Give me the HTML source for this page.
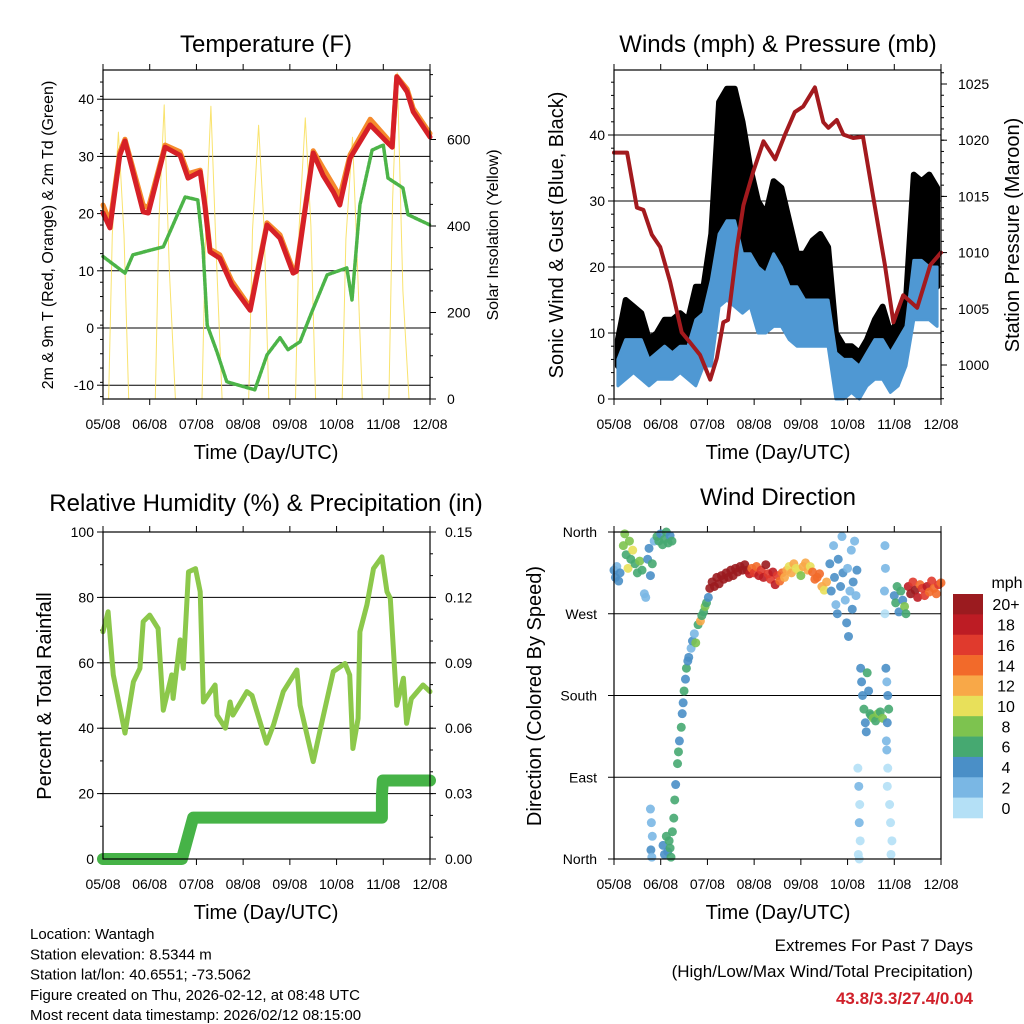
<!DOCTYPE html>
<html><head><meta charset="utf-8"><style>
body{margin:0;background:#fff;}
svg{display:block;font-family:"Liberation Sans",Arial,sans-serif;}
</style></head><body>
<svg id="c" width="1024" height="1024" viewBox="0 0 1024 1024" xmlns="http://www.w3.org/2000/svg"></svg>
<script>
// ---------- DATA ----------
const dayLabels=["05/08","06/08","07/08","08/08","09/08","10/08","11/08","12/08"];
const tempT=[0,0.15,0.36,0.47,0.86,0.97,1.33,1.65,1.82,2.08,2.18,2.29,2.5,2.76,3.15,3.51,3.79,4.07,4.14,4.5,4.71,4.93,5.07,5.29,5.72,6.08,6.19,6.29,6.51,6.64,7.0];
const tempRed=[20.1,17.5,30.2,32.7,20.3,20.1,31.6,30.2,26.2,27.3,21.5,13.3,12.2,7.5,3.1,18,15.7,9.6,9.9,30.6,26.7,23.8,21.5,29.7,35.5,32.5,31.6,43.9,41.3,37.8,33.4];
const tempOrange=[21.5,18.5,30.8,33,21.5,21,32,30.8,27,27.6,22,13.8,12.8,8.2,3.6,18.4,16.3,10.2,10.4,31,28,25,23,30.3,36.5,33.2,32,44,41.8,38.4,34];
const dewT=[0,0.47,0.64,1.29,1.45,1.76,2.03,2.14,2.23,2.44,2.65,3.25,3.51,3.79,3.96,4.22,4.47,4.8,5.22,5.33,5.5,5.76,6.0,6.1,6.42,6.53,7.0];
const dewV=[12.5,9.6,12.8,14.2,17.1,22.9,22.4,14,0.5,-4.2,-9.4,-10.8,-4.7,-1.7,-3.8,-2.4,2.8,9.3,10.5,4.9,21.5,31.1,32,26.2,24.5,19.8,18];
const solarT=[0.12,0.2,0.33,0.45,0.55, 1.12,1.2,1.31,1.42,1.55, 2.12,2.2,2.31,2.42,2.55, 3.12,3.2,3.33,3.45,3.55, 4.12,4.2,4.33,4.45,4.55, 5.12,5.2,5.34,5.45,5.55, 6.12,6.2,6.3,6.42,6.55];
const solarV=[0,380,617,380,0, 0,420,680,300,0, 0,400,677,350,0, 0,390,633,390,0, 0,400,650,400,0, 0,370,605,300,0, 0,460,754,250,0];
const presT=[0,0.28,0.49,0.63,0.81,0.99,1.2,1.45,1.63,1.84,2.06,2.2,2.34,2.44,2.63,2.77,2.98,3.2,3.45,3.66,3.87,4.05,4.3,4.48,4.59,4.77,4.91,5.12,5.33,5.55,5.8,5.98,6.19,6.49,6.77,7.0];
const presV=[1018.9,1018.9,1014,1013.8,1011.6,1010.5,1007.4,1002.9,1002,1000.9,998.7,1000.6,1003.8,1004,1010.4,1014.2,1017.2,1019.9,1018.3,1020.5,1022.5,1023,1024.7,1021.6,1021.1,1021.8,1020.5,1020.2,1020.3,1014.9,1008.9,1003.8,1006.2,1005.1,1008.9,1010];
const gustLo=[5,6,7,6,4,5,7,7,7,6,4,8,9,20,22,22,20,20,15,15,17,17,13,11,12,12,12,12,2,2,3,1,4,6,6,3,5,8,18,17,17,17];
const gustHi=[9,15,14,13,9,10,12,12,13,12,17,17,25,45,47,47,42,35,30,28,33,32,27,22,22,24,25,23,10,8,8,7,9,12,14,10,12,15,34,33,34,32];
const windLo=[2,3,4,3,2,3,3,3,4,3,2,5,5,14,15,14,13,14,10,10,11,11,9,8,8,8,8,8,0,0,1,0,2,3,3,1,2,5,12,12,12,11];
const windHi=[6,9,9,9,6,7,8,7,8,8,12,13,18,25,27,27,22,22,20,19,22,20,17,17,15,15,15,15,7,6,6,5,7,9,9,7,9,11,21,21,20,20];
const rhT=[0,0.11,0.22,0.47,0.65,0.79,0.86,1.0,1.18,1.29,1.47,1.5,1.65,1.72,1.83,1.98,2.08,2.15,2.4,2.44,2.62,2.72,2.78,3.08,3.19,3.5,3.65,3.86,4.15,4.22,4.5,4.64,4.93,5.18,5.28,5.35,5.46,5.5,5.65,5.79,5.97,6.08,6.15,6.29,6.43,6.5,6.6,6.85,7.0];
const rhV=[69.5,75.6,56.3,38.5,54.2,58.3,72.6,74.6,70.5,45.5,56.3,49.1,67,58.3,87.8,88.8,81.7,48,53.2,44,40,48,44,51.2,50,35.4,41,51.2,57.8,47,29.8,39,57.3,59.8,56.3,33.8,43,69.5,77.7,88.8,92.4,81.7,79.7,47,55.3,41.5,49,53.2,51.2];
const precT=[0,1.69,1.93,5.97,5.97,5.99,7.0];
const precV=[0,0,0.019,0.019,0.029,0.036,0.036];
const dirT=[0,0.03,0.06,0.1,0.13,0.2,0.23,0.26,0.3,0.33,0.36,0.4,0.45,0.5,0.55,0.6,0.65,0.68,0.72,0.75,0.78,0.82,0.86,0.92,0.96,1.0,1.04,1.08,1.12,1.16,1.2,1.24,
0.78,0.8,0.82,0.79,0.81,1.05,1.08,1.12,1.15,1.18,1.2,1.22,1.25,1.28,1.3,1.32,
1.36,1.38,1.4,1.44,1.46,1.48,1.5,1.53,1.55,1.58,1.6,1.65,1.68,1.72,1.75,1.8,1.85,1.88,1.92,1.95,1.98,2.02,
2.05,2.1,2.15,2.2,2.25,2.3,2.35,2.4,2.45,2.5,2.55,2.6,2.65,2.7,2.75,2.8,2.85,2.9,
2.95,3.0,3.05,3.1,3.15,3.2,3.25,3.3,3.35,3.4,3.45,3.5,3.55,3.6,
3.65,3.7,3.75,3.8,3.85,3.9,3.95,4.0,4.05,4.1,4.15,4.2,4.25,4.3,4.35,4.4,4.45,4.5,4.55,
4.62,4.65,4.7,4.72,4.75,4.78,4.8,4.85,4.88,4.9,4.95,4.98,5.0,5.02,5.05,5.08,5.1,5.12,5.15,5.18,5.2,
5.22,5.24,5.26,5.25,5.27,5.23,5.25,5.28,5.3,5.32,5.35,5.38,5.4,5.42,5.45,5.48,5.5,5.55,5.6,5.65,5.7,5.75,
5.82,5.84,5.86,5.88,5.85,5.83,5.84,5.86,5.85,5.8,5.81,5.79,5.8,5.9,5.92,5.95,5.93,
6.0,6.03,6.06,6.1,6.14,6.18,6.22,6.25,
6.3,6.35,6.4,6.45,6.5,6.55,6.6,6.65,6.7,6.75,6.8,6.85,6.9,6.95,7.0];
const dirV=[318,310,322,306,315,345,358,335,320,350,330,340,325,315,328,318,292,288,330,342,312,325,350,355,350,358,346,352,360,348,356,350,
55,40,25,10,2,15,5,25,8,20,12,2,30,45,65,82,
105,118,130,145,160,172,185,198,210,218,222,232,240,248,238,258,262,268,272,278,282,288,
298,305,300,310,303,312,308,315,310,318,312,320,316,322,318,324,318,314,
320,315,322,312,318,310,324,314,308,316,302,312,306,315,
310,318,322,315,325,320,318,312,322,326,318,322,316,308,310,314,300,296,305,
325,295,345,310,280,270,330,300,355,315,285,260,320,245,295,340,275,305,350,290,318,
100,80,60,40,20,5,0,210,195,180,165,150,140,205,185,160,158,155,152,160,162,155,
210,195,180,165,150,130,120,100,80,345,320,295,270,60,40,20,5,
290,282,300,272,295,285,278,270,
300,292,305,296,288,302,298,290,300,294,306,298,292,302,304];
const dirS=[4,4,3,4,4,8,9,7,10,8,7,11,6,6,8,6,2,2,4,5,4,6,3,6,6,5,6,7,6,6,5,6,
2,3,2,4,3,4,5,6,5,7,6,6,7,6,6,5,
6,6,5,6,4,5,7,4,6,5,4,3,4,2,8,6,12,7,7,8,6,5,
20,21,20,22,20,21,20,22,21,20,22,20,21,20,22,21,20,19,
15,17,14,18,16,18,20,17,16,18,19,17,15,14,
12,12,10,12,13,10,11,9,12,13,12,11,14,15,14,15,13,10,12,
4,4,3,4,3,4,4,5,2,4,3,4,2,4,2,3,4,4,2,3,4,
1,2,1,2,1,1,0,4,4,5,6,5,4,6,5,7,7,8,7,8,7,8,
4,3,4,6,5,3,2,1,1,2,2,2,1,1,1,0,1,
4,6,7,5,6,4,8,6,
18,20,16,20,18,14,17,16,18,15,17,14,15,16,15];
const cbLabels=["20+","18","16","14","12","10","8","6","4","2","0"];
const cbColors=["#9b1b1f","#bd1c24","#e03a2d","#f26a2a","#f8a848","#e8e05a","#7dc34f","#46a971","#4a8fc7","#7ab7e4","#b4e0f6"];

// ---------- HELPERS ----------
const svg=document.getElementById('c');
const NS="http://www.w3.org/2000/svg";
function mk(tag,attrs,parent){const e=document.createElementNS(NS,tag);for(const k in attrs)e.setAttribute(k,attrs[k]);(parent||svg).appendChild(e);return e;}
function txt(s,x,y,size,anchor,parent,extra){const e=mk('text',Object.assign({x:x,y:y,'font-size':size,'text-anchor':anchor||'middle',fill:'#000'},extra||{}),parent);e.textContent=s;return e;}
function lin(a0,a1,p0,p1){return v=>p0+(v-a0)/(a1-a0)*(p1-p0);}
function grp(name){const g=mk('g',{});return g;}

function frame(L,T,R,B,g){
  const xs=lin(0,7,L,R);
  for(let d=0;d<=7;d++){const x=xs(d);
    mk('line',{x1:x,y1:B,x2:x,y2:B+6,stroke:'#000','stroke-width':1},g);
    mk('line',{x1:x,y1:T,x2:x,y2:T-6,stroke:'#000','stroke-width':1},g);
    const t=txt(dayLabels[d],x,B+30,14,'middle',g);
    
    
  }
  return xs;
}
function border(L,T,R,B,g){mk('rect',{x:L,y:T,width:R-L,height:B-T,fill:'none',stroke:'#000','stroke-width':1.2},g);}
function polyline(ts,vs,xs,ys,attrs,g){let d='';for(let i=0;i<ts.length;i++)d+=(i?'L':'M')+xs(ts[i]).toFixed(1)+','+ys(vs[i]).toFixed(1);return mk('path',Object.assign({d:d,fill:'none','stroke-linejoin':'round','stroke-linecap':'round'},attrs),g);}
function band(lo,hi,xs,ys,attrs,g){
  const n=lo.length,bw=7/n;let d='';
  for(let i=0;i<n;i++){d+=(i?'L':'M')+xs((i+0.5)*bw).toFixed(1)+','+ys(hi[i]).toFixed(1);}
  for(let i=n-1;i>=0;i--){d+='L'+xs((i+0.5)*bw).toFixed(1)+','+ys(lo[i]).toFixed(1);}
  return mk('path',Object.assign({d:d+'Z','stroke-linejoin':'round'},attrs),g);
}

// ---------- PANEL 1: TEMPERATURE ----------
(function(){
  const L=103,T=70,R=430,B=399;
  const g=grp('temperature-panel');
  const xs=frame(L,T,R,B,g);
  const yT=v=>328-5.72*v;
  const yr=lin(0,200,399,312.5);
  [-10,0,10,20,30,40].forEach(v=>{const y=yT(v);
    mk('line',{x1:L,y1:y,x2:R,y2:y,stroke:'#000','stroke-width':1},g);
    mk('line',{x1:L,y1:y,x2:L-6,y2:y,stroke:'#000'},g);
    txt(String(v),L-9,y+5,14,'end',g);});
  for(let v=-12;v<=45;v+=2.5){const y=yT(v);if(y>T&&y<B)mk('line',{x1:L,y1:y,x2:L-3,y2:y,stroke:'#000'},g);}
  [0,200,400,600].forEach(v=>{const y=yr(v);mk('line',{x1:R,y1:y,x2:R+6,y2:y,stroke:'#000'},g);txt(String(v),R+17,y+5,14,'start',g);});
  for(let v=50;v<760;v+=50){const y=yr(v);mk('line',{x1:R,y1:y,x2:R+3,y2:y,stroke:'#000'},g);}
  const sol=polyline(solarT,solarV,xs,yr,{stroke:'#f7dc4a','stroke-width':1,'stroke-opacity':0.8},g);
  
  
  const dew=polyline(dewT,dewV,xs,yT,{stroke:'#4cb448','stroke-width':3.5,'stroke-dasharray':'3 1.5'},g);
  
  
  const or=polyline(tempT,tempOrange,xs,yT,{stroke:'#f58a2c','stroke-width':5},g);
  
  
  const rd=polyline(tempT,tempRed,xs,yT,{stroke:'#d62027','stroke-width':5},g);
  
  
  border(L,T,R,B,g);
  const t1=txt('Temperature (F)',266,52,24,'middle',g);
  
  
  const xt=txt('Time (Day/UTC)',266,459,20,'middle',g);
  
  
  const yl=txt('2m & 9m T (Red, Orange) & 2m Td (Green)',0,0,16,'middle',g,{transform:'translate(53,235) rotate(-90)'});
  
  
  const yr2=txt('Solar Insolation (Yellow)',0,0,16,'middle',g,{transform:'translate(498,235) rotate(-90)'});
  
  
})();

// ---------- PANEL 2: WINDS & PRESSURE ----------
(function(){
  const L=614,T=70,R=941,B=399;
  const g=grp('winds-panel');
  const xs=frame(L,T,R,B,g);
  const ys=lin(0,10,399,333);
  const yp=lin(1000,1005,365,308.8);
  [10,20,30,40].forEach(v=>{const y=ys(v);mk('line',{x1:L,y1:y,x2:R,y2:y,stroke:'#000'},g);});
  [0,10,20,30,40].forEach(v=>{const y=ys(v);mk('line',{x1:L,y1:y,x2:L-6,y2:y,stroke:'#000'},g);txt(String(v),L-9,y+5,14,'end',g);});
  for(let v=2;v<50;v+=2){const y=ys(v);mk('line',{x1:L,y1:y,x2:L-3,y2:y,stroke:'#000'},g);}
  [1000,1005,1010,1015,1020,1025].forEach(v=>{const y=yp(v);mk('line',{x1:R,y1:y,x2:R+6,y2:y,stroke:'#000'},g);txt(String(v),R+17,y+5,14,'start',g);});
  for(let v=997;v<=1026;v++){const y=yp(v);mk('line',{x1:R,y1:y,x2:R+3,y2:y,stroke:'#000'},g);}
  const gb=band(gustLo,gustHi,xs,ys,{fill:'#000',stroke:'#000','stroke-width':6},g);
  
  
  const wb=band(windLo,windHi,xs,ys,{fill:'#4f98d3',stroke:'#4f98d3','stroke-width':3},g);
  
  
  const p=polyline(presT,presV,xs,yp,{stroke:'#a31a1e','stroke-width':4},g);
  
  
  border(L,T,R,B,g);
  const t=txt('Winds (mph) & Pressure (mb)',778,52,24,'middle',g);
  
  
  const xt=txt('Time (Day/UTC)',778,459,20,'middle',g);
  
  
  const yl=txt('Sonic Wind & Gust (Blue, Black)',0,0,20,'middle',g,{transform:'translate(563,235) rotate(-90)'});
  
  
  const yr=txt('Station Pressure (Maroon)',0,0,20,'middle',g,{transform:'translate(1019,235) rotate(-90)'});
  
  
})();

// ---------- PANEL 3: RH & PRECIP ----------
(function(){
  const L=103,T=532,R=430,B=859;
  const g=grp('humidity-panel');
  const xs=frame(L,T,R,B,g);
  const ys=lin(0,100,859,532);
  const yq=lin(0,0.15,859,532);
  [20,40,60,80].forEach(v=>{const y=ys(v);mk('line',{x1:L,y1:y,x2:R,y2:y,stroke:'#000'},g);});
  [0,20,40,60,80,100].forEach(v=>{const y=ys(v);mk('line',{x1:L,y1:y,x2:L-6,y2:y,stroke:'#000'},g);txt(String(v),L-9,y+5,14,'end',g);});
  for(let v=10;v<100;v+=10){const y=ys(v);mk('line',{x1:L,y1:y,x2:L-3,y2:y,stroke:'#000'},g);}
  ["0.00","0.03","0.06","0.09","0.12","0.15"].forEach(s=>{const y=yq(parseFloat(s));mk('line',{x1:R,y1:y,x2:R+6,y2:y,stroke:'#000'},g);txt(s,R+15,y+5,14,'start',g);});
  for(let v=0.01;v<0.15;v+=0.01){const y=yq(v);mk('line',{x1:R,y1:y,x2:R+3,y2:y,stroke:'#000'},g);}
  const rh=polyline(rhT,rhV,xs,ys,{stroke:'#8cc84b','stroke-width':5},g);
  
  
  const pr=polyline(precT,precV,xs,yq,{stroke:'#46b347','stroke-width':12},g);
  
  
  border(L,T,R,B,g);
  const t=txt('Relative Humidity (%) & Precipitation (in)',266,511,24,'middle',g);
  
  
  const xt=txt('Time (Day/UTC)',266,919,20,'middle',g);
  
  
  const yl=txt('Percent & Total Rainfall',0,0,20,'middle',g,{transform:'translate(51,696) rotate(-90)'});
  
  
})();

// ---------- PANEL 4: WIND DIRECTION ----------
(function(){
  const L=614,T=532,R=941,B=859;
  const g=grp('wind-direction-panel');
  const xs=frame(L,T,R,B,g);
  const ys=lin(0,360,859,532);
  [90,180,270].forEach(v=>{const y=ys(v);mk('line',{x1:L,y1:y,x2:R,y2:y,stroke:'#000'},g);});
  const dl=["North","East","South","West","North"];
  [0,90,180,270,360].forEach((v,i)=>{const y=ys(v);mk('line',{x1:L,y1:y,x2:L-6,y2:y,stroke:'#000'},g);txt(dl[i],L-17,y+5,14,'end',g);});
  for(let i=0;i<dirT.length;i++){
    const idx=Math.max(0,Math.min(10,10-Math.floor(dirS[i]/2)));
    const c=mk('circle',{cx:xs(dirT[i]),cy:ys(dirV[i]),r:4.5,fill:cbColors[idx],'fill-opacity':0.9},g);
    
    
  }
  border(L,T,R,B,g);
  const t=txt('Wind Direction',778,505,24,'middle',g);
  
  
  const xt=txt('Time (Day/UTC)',778,919,20,'middle',g);
  
  
  const yl=txt('Direction (Colored By Speed)',0,0,20,'middle',g,{transform:'translate(541,696) rotate(-90)'});
  
  
  const cb=grp('speed-colorbar');
  const h=224/cbColors.length;
  for(let i=0;i<cbColors.length;i++){
    const r=mk('rect',{x:953,y:594+i*h,width:30,height:h+0.3,fill:cbColors[i]},cb);
    
    
    txt(cbLabels[i],1006,594+i*h+h/2+6,16,'middle',cb);
  }
  txt('mph',1007,588,16,'middle',cb);
})();

// ---------- FOOTER TEXT ----------
(function(){
  const g=grp('station-info');
  const lines=["Location: Wantagh","Station elevation: 8.5344 m","Station lat/lon: 40.6551; -73.5062","Figure created on Thu, 2026-02-12, at 08:48 UTC","Most recent data timestamp: 2026/02/12 08:15:00"];
  lines.forEach((s,i)=>txt(s,30,939+i*20.3,15,'start',g));
  const e=grp('extremes-summary');
  txt('Extremes For Past 7 Days',973,951,17,'end',e);
  txt('(High/Low/Max Wind/Total Precipitation)',973,977,17,'end',e);
  txt('43.8/3.3/27.4/0.04',973,1004,17,'end',e,{fill:'#d0202a','font-weight':'bold'});
})();
</script>
</body></html>
